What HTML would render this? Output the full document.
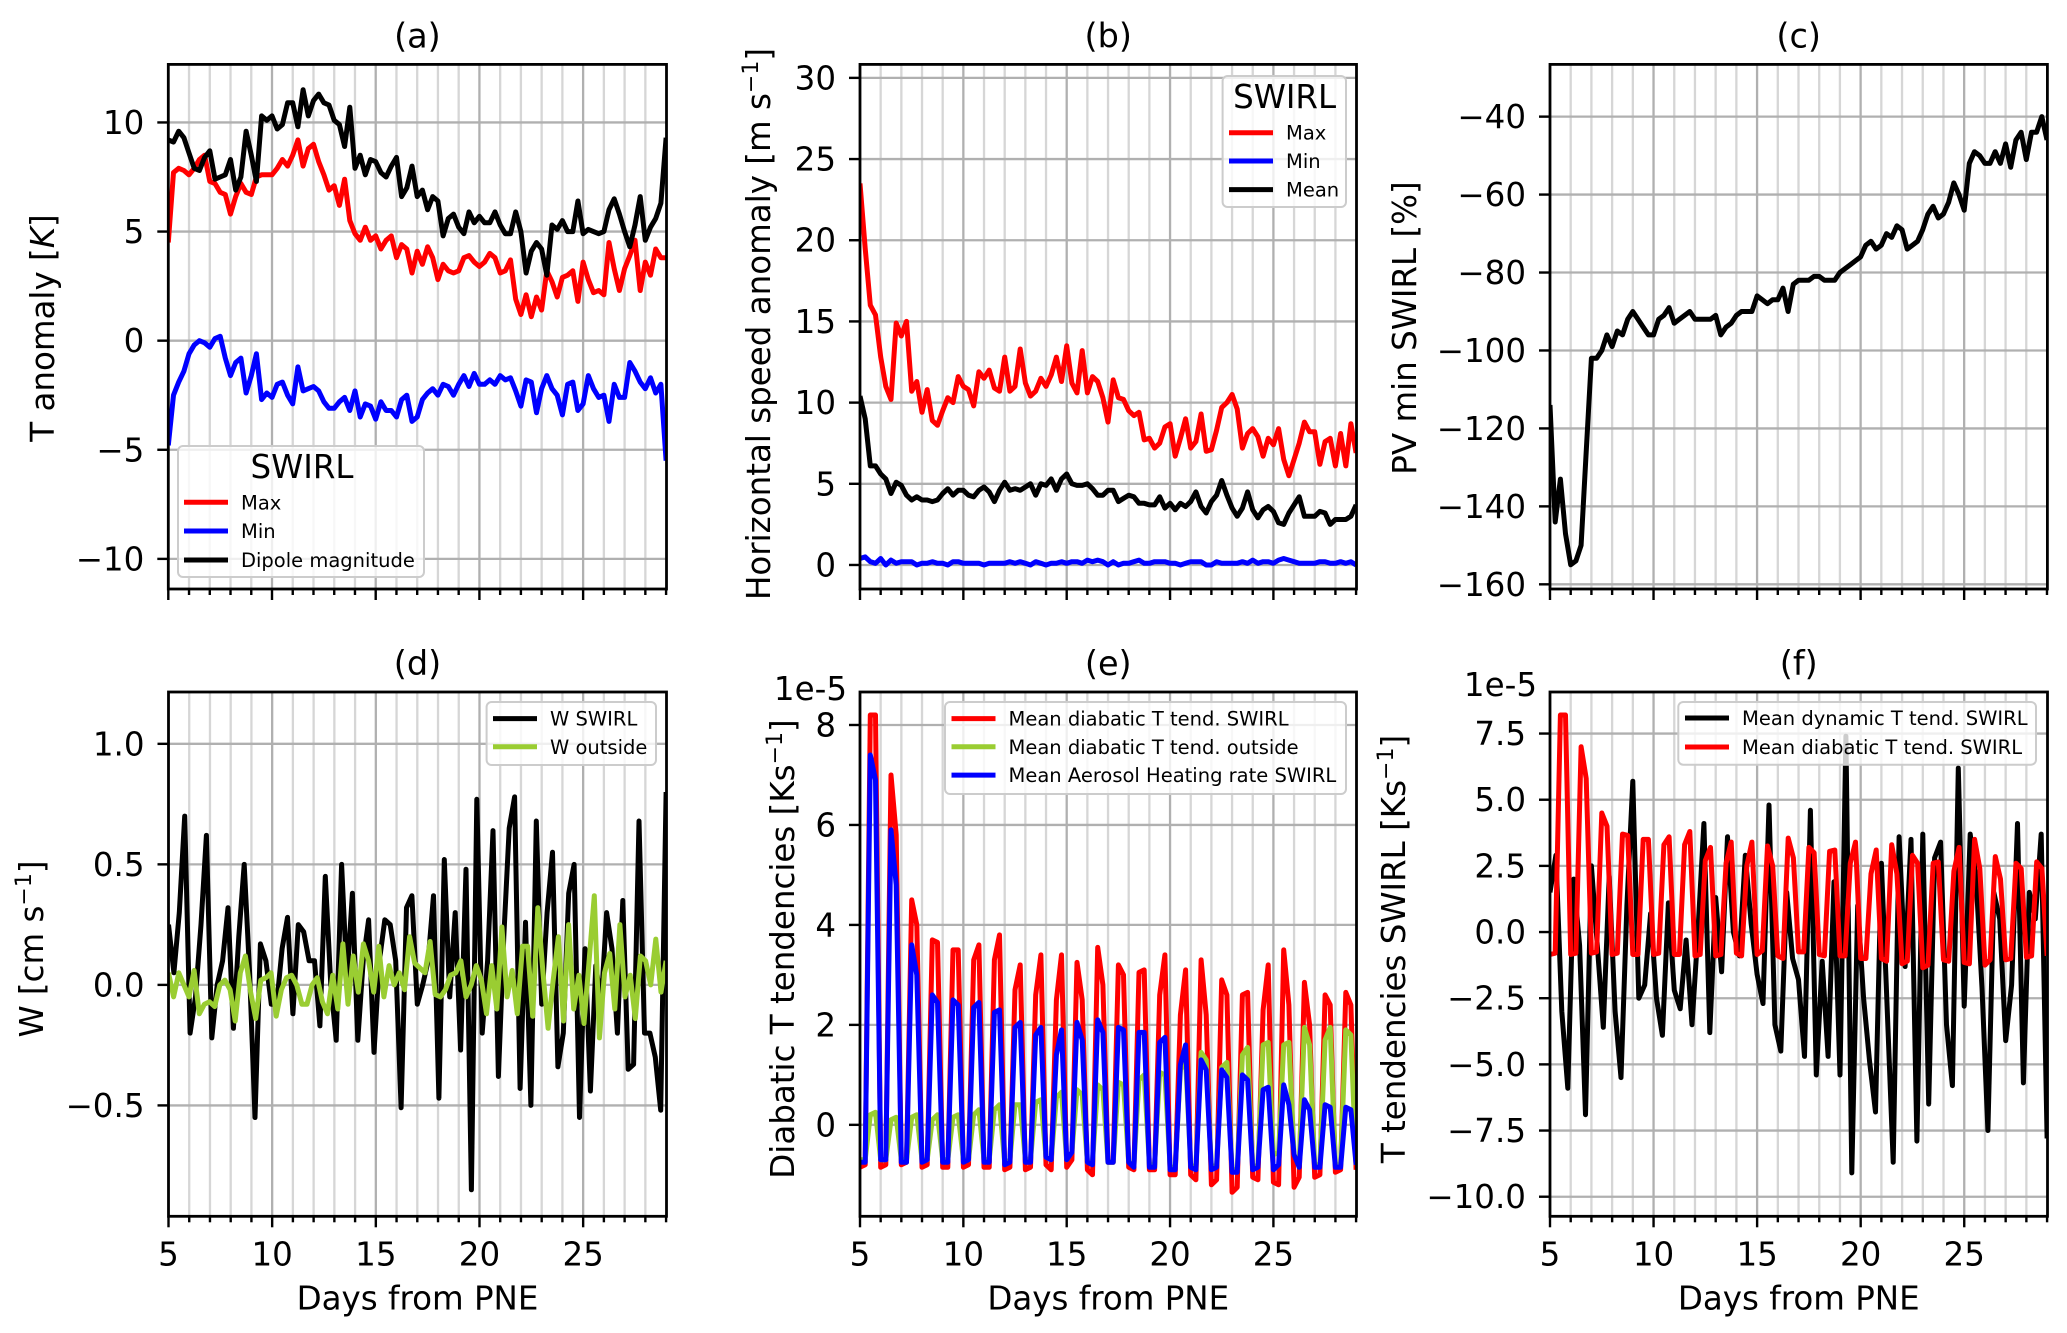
<!DOCTYPE html>
<html><head><meta charset="utf-8"><style>
html,body{margin:0;padding:0;background:#fff;}
svg{display:block;font-family:"DejaVu Sans","Liberation Sans",sans-serif;}
</style></head><body>
<svg id="fig" width="2067" height="1333" viewBox="0 0 2067 1333" xmlns="http://www.w3.org/2000/svg"></svg>
<script>
// ---------- data ----------
const xStart = 5, xEnd = 29;
const aMax = [4.5,7.7,7.9,7.8,7.6,7.9,8.3,8.5,7.3,7.2,6.8,6.7,5.8,6.6,7.2,6.8,6.7,7.5,7.6,7.6,7.6,7.9,8.3,8.0,8.5,9.2,8.0,8.8,9.0,8.2,7.6,6.9,7.1,6.2,7.4,5.5,4.9,4.6,5.2,4.6,4.8,4.2,4.6,4.8,3.8,4.4,4.2,3.1,4.1,3.5,4.3,3.8,2.8,3.5,3.2,3.1,3.2,3.8,3.9,3.6,3.4,3.6,4.0,3.8,3.1,3.2,3.7,1.9,1.2,2.1,1.1,2.0,1.4,3.2,2.7,2.0,2.9,3.0,3.2,1.8,3.6,2.8,2.2,2.3,2.1,4.5,3.3,2.3,3.3,3.9,4.6,2.3,3.6,3.0,4.2,3.8,3.8];
const aMin = [-4.8,-2.5,-1.9,-1.4,-0.6,-0.2,0.0,-0.1,-0.3,0.1,0.2,-0.8,-1.6,-1.0,-0.8,-2.4,-1.6,-0.6,-2.7,-2.4,-2.6,-2.0,-1.9,-2.5,-2.9,-1.2,-2.3,-2.2,-2.1,-2.3,-2.8,-3.1,-3.1,-2.8,-2.6,-3.2,-2.3,-3.5,-2.9,-3.0,-3.6,-2.8,-3.2,-3.2,-3.5,-2.7,-2.5,-3.7,-3.5,-2.7,-2.4,-2.2,-2.5,-2.0,-2.1,-2.5,-2.0,-1.6,-2.1,-1.5,-2.0,-2.0,-1.8,-2.0,-1.6,-1.8,-1.7,-2.3,-3.0,-1.8,-1.9,-3.3,-2.2,-1.6,-2.2,-2.5,-3.4,-2.0,-1.9,-3.2,-2.9,-1.6,-2.2,-2.6,-2.5,-3.7,-2.0,-2.6,-2.6,-1.0,-1.4,-1.9,-2.2,-1.7,-2.4,-2.0,-5.5];
const aDipole = [9.2,9.1,9.6,9.3,8.6,7.9,7.8,8.4,8.7,7.4,7.5,7.6,8.3,6.9,7.5,9.6,8.5,7.3,10.3,10.1,10.3,9.7,9.9,10.9,10.9,9.8,11.5,10.3,11.0,11.3,10.9,10.8,10.1,9.9,8.9,10.7,7.9,8.5,7.6,8.3,8.2,7.7,7.5,8.0,8.4,6.6,7.0,8.0,6.6,6.9,6.0,6.6,6.4,4.8,5.6,5.8,5.2,4.9,5.9,5.4,5.7,5.4,5.4,5.9,5.3,4.9,4.9,5.9,5.0,3.1,4.1,4.5,4.2,3.0,5.3,5.1,5.5,5.0,5.0,6.4,4.9,5.1,5.0,4.9,5.0,6.0,6.5,5.8,5.0,4.3,5.3,6.6,4.6,5.2,5.6,6.3,9.3];
const bMax = [23.5,19.5,16.0,15.4,12.8,11.0,10.2,14.9,14.1,15.0,10.7,11.3,9.4,10.8,8.9,8.6,9.5,10.3,10.0,11.6,11.0,10.8,9.8,11.9,11.5,12.0,10.9,10.7,12.8,10.7,11.0,13.3,11.2,10.4,10.7,11.5,11.0,11.7,12.8,11.3,13.5,11.2,10.6,13.2,10.6,11.6,11.3,10.3,8.8,11.4,10.3,10.2,9.5,9.2,9.4,7.7,7.8,7.2,7.5,8.5,8.7,6.7,7.8,9.0,7.2,7.6,9.3,7.0,7.1,8.3,9.7,10.0,10.5,9.6,7.2,8.1,8.4,7.9,6.7,7.8,7.4,8.4,6.5,5.5,6.5,7.5,8.8,8.2,8.2,6.2,7.6,7.8,6.1,8.1,6.1,8.7,6.9];
const bMean = [10.4,9.0,6.1,6.1,5.6,5.3,4.4,5.1,4.9,4.3,4.0,4.2,4.0,4.0,3.9,4.0,4.4,4.7,4.3,4.6,4.6,4.3,4.2,4.6,4.8,4.5,3.9,4.6,5.1,4.6,4.7,4.6,4.8,5.0,4.3,5.0,4.9,5.3,4.6,5.3,5.6,5.0,4.9,4.9,5.0,4.7,4.3,4.3,4.6,4.6,3.9,4.1,4.3,4.2,3.8,3.8,3.7,3.7,4.2,3.5,3.8,3.4,3.8,3.6,3.9,4.5,3.6,3.2,3.9,4.3,5.2,4.3,3.5,3.0,3.5,4.5,3.4,2.9,3.4,3.6,3.3,2.6,2.5,3.2,3.7,4.2,3.0,3.0,3.0,3.3,3.2,2.5,2.8,2.8,2.8,3.0,3.7];
const bMin = [0.4,0.5,0.2,0.1,0.4,0.0,0.3,0.1,0.2,0.2,0.2,0.0,0.1,0.1,0.2,0.1,0.1,0.0,0.2,0.2,0.1,0.1,0.1,0.1,0.0,0.1,0.1,0.1,0.1,0.2,0.1,0.2,0.1,0.0,0.2,0.1,0.0,0.1,0.1,0.2,0.1,0.2,0.2,0.1,0.3,0.2,0.3,0.2,0.0,0.2,0.0,0.1,0.1,0.2,0.3,0.1,0.1,0.2,0.2,0.2,0.1,0.1,0.0,0.1,0.2,0.2,0.2,0.0,0.0,0.2,0.1,0.1,0.1,0.1,0.2,0.1,0.3,0.1,0.2,0.2,0.1,0.3,0.4,0.3,0.2,0.1,0.1,0.1,0.1,0.2,0.2,0.1,0.1,0.2,0.1,0.2,0.0];
const cPV = [-114,-144,-133,-147,-155,-154,-150,-126,-102,-102,-100,-96,-99,-95,-96,-92,-90,-92,-94,-96,-96,-92,-91,-89,-93,-92,-91,-90,-92,-92,-92,-92,-91,-96,-94,-93,-91,-90,-90,-90,-86,-87,-88,-87,-87,-84,-90,-83,-82,-82,-82,-81,-81,-82,-82,-82,-80,-79,-78,-77,-76,-73,-72,-74,-73,-70,-71,-68,-69,-74,-73,-72,-69,-65,-63,-66,-65,-62,-57,-60,-64,-52,-49,-50,-52,-52,-49,-52,-47,-53,-46,-44,-51,-44,-44,-40,-46];
const dSwirl = [0.25,0.05,0.3,0.7,-0.2,-0.05,0.25,0.62,-0.22,0.0,0.1,0.32,-0.18,0.2,0.5,0.05,-0.55,0.17,0.1,-0.08,-0.08,0.15,0.28,-0.12,0.25,0.22,0.1,0.1,-0.17,0.45,0.0,-0.23,0.5,0.02,0.38,-0.23,0.1,0.27,-0.28,0.1,0.27,0.25,0.1,-0.51,0.32,0.37,-0.08,0.0,0.1,0.37,-0.47,0.52,-0.05,0.3,-0.27,0.48,-0.85,0.77,-0.2,0.1,0.64,-0.38,0.2,0.65,0.78,-0.43,0.26,-0.5,0.68,-0.08,0.3,0.55,-0.34,-0.2,0.38,0.5,-0.55,0.15,-0.44,0.08,-0.08,0.3,0.15,-0.2,0.35,-0.35,-0.33,0.68,-0.2,-0.2,-0.3,-0.52,0.8];
const dOutside = [0.05,-0.05,0.05,0.0,-0.05,0.06,-0.12,-0.08,-0.07,-0.09,0.0,0.02,-0.02,-0.15,0.05,0.12,-0.03,-0.14,0.02,0.03,0.05,-0.13,-0.02,0.03,0.04,0.0,-0.08,-0.08,0.0,0.03,-0.07,-0.12,0.04,-0.1,0.17,-0.08,0.12,-0.03,0.17,0.1,-0.03,0.16,-0.05,0.08,0.0,0.05,-0.02,0.2,0.09,0.07,0.05,0.18,-0.04,-0.05,-0.02,0.04,0.05,0.1,-0.05,0.0,0.08,0.02,-0.12,0.08,-0.1,0.24,-0.05,0.06,-0.12,0.16,0.16,-0.13,0.32,0.05,-0.18,0.02,0.2,-0.15,0.25,-0.1,0.04,-0.16,0.1,0.37,-0.22,0.05,0.13,-0.1,0.25,-0.05,0.04,-0.14,0.12,0.1,0.0,0.19,-0.03,0.1];
const diabDays = [5,6,7,8,9,10,11,12,13,14,15,16,17,18,19,20,21,22,23,24,25,26,27,28];
const redHigh1 = [8.2,7.0,4.5,3.7,3.5,3.3,3.3,2.7,2.6,2.5,3.25,3.55,3.2,3.05,2.6,2.2,3.3,2.9,2.6,2.3,3.5,2.85,2.6,2.65];
const redHigh2 = [8.2,5.8,4.0,3.65,3.5,3.6,3.8,3.2,3.4,3.4,2.5,2.8,3.0,3.1,3.4,3.1,2.2,2.6,2.65,3.2,2.4,2.0,2.4,2.4];
const redLow1 = [-0.85,-0.85,-0.8,-0.85,-0.85,-0.85,-0.85,-0.9,-0.9,-0.8,-0.85,-0.9,-0.75,-0.85,-0.9,-1.0,-1.0,-1.2,-1.35,-1.05,-1.15,-1.25,-1.05,-0.95];
const redLow2 = [-0.8,-0.8,-0.75,-0.8,-0.85,-0.8,-0.85,-0.85,-0.85,-0.9,-0.7,-1.0,-0.75,-0.9,-0.9,-1.0,-1.1,-1.1,-1.25,-1.1,-1.2,-1.05,-1.0,-0.9];
const blueHigh1 = [7.4,5.9,3.6,2.6,2.5,2.35,2.25,1.95,1.8,1.4,2.05,2.1,1.95,1.85,1.65,1.2,1.3,1.1,1.0,0.7,0.8,0.5,0.4,0.35];
const blueHigh2 = [6.9,4.8,3.0,2.45,2.4,2.45,2.3,2.05,1.95,1.9,1.7,1.85,1.9,1.85,1.75,1.6,1.1,0.95,0.9,0.75,0.4,0.3,0.35,0.3];
const blueLow1 = [-0.75,-0.7,-0.75,-0.75,-0.75,-0.75,-0.75,-0.8,-0.75,-0.65,-0.7,-0.75,-0.75,-0.75,-0.85,-0.9,-0.85,-0.9,-0.95,-0.9,-0.9,-0.6,-0.85,-0.85];
const blueLow2 = [-0.75,-0.7,-0.75,-0.7,-0.75,-0.7,-0.75,-0.75,-0.75,-0.7,-0.55,-0.8,-0.75,-0.85,-0.85,-0.9,-0.9,-0.85,-0.95,-0.85,-0.8,-0.85,-0.85,-0.85];
const greenHigh1 = [0.2,0.1,0.15,0.1,0.15,0.2,0.3,0.4,0.45,0.55,0.7,0.8,0.85,0.9,1.05,1.1,1.45,1.15,1.4,1.6,1.6,1.95,1.7,1.9];
const greenHigh2 = [0.25,0.15,0.2,0.2,0.2,0.3,0.4,0.4,0.5,0.65,0.6,0.7,0.8,1.0,1.0,1.3,1.3,1.25,1.55,1.65,1.65,1.6,1.95,1.8];
const greenLow1 = [-0.7,-0.7,-0.7,-0.7,-0.7,-0.7,-0.7,-0.75,-0.7,-0.65,-0.7,-0.75,-0.75,-0.75,-0.8,-0.85,-0.8,-0.85,-0.9,-0.85,-0.6,-0.6,-0.8,-0.8];
const greenLow2 = [-0.7,-0.7,-0.7,-0.7,-0.7,-0.7,-0.7,-0.7,-0.7,-0.7,-0.55,-0.75,-0.75,-0.8,-0.8,-0.85,-0.85,-0.8,-0.9,-0.8,-0.55,-0.8,-0.8,-0.8];
const diabEnd = [-0.9,-0.8,-0.8];
const fDynamic = [1.5,2.9,-3.0,-5.9,2.0,-0.5,-6.9,2.5,-0.5,-3.6,2.1,-3.0,-5.5,1.0,5.7,-2.5,-2.0,0.7,-2.5,-3.9,1.1,-2.2,-2.9,-0.3,-3.5,0.0,4.1,-3.8,1.3,-1.5,3.6,0.0,-0.9,2.9,0.3,-1.6,-2.7,4.8,-3.5,-4.5,1.5,-1.0,-1.8,-4.7,4.6,-5.4,-1.1,-4.7,1.9,-5.4,7.4,-9.1,1.0,-2.5,-4.9,-6.8,2.6,-3.0,-8.7,3.6,-1.3,3.5,-7.9,3.7,-6.5,2.8,3.4,-3.5,-5.8,6.2,-2.8,3.7,2.0,-2.1,-7.5,1.5,0.5,-4.1,-2.0,4.1,-5.7,1.5,0.5,3.7,-7.8];
const xTicks = [5,10,15,20,25];
const xTickLabels = ['5','10','15','20','25'];
const aYTicks = [-10,-5,0,5,10];
const aYLabels = ['−10','−5','0','5','10'];
const bYTicks = [0,5,10,15,20,25,30];
const bYLabels = ['0','5','10','15','20','25','30'];
const cYTicks = [-160,-140,-120,-100,-80,-60,-40];
const cYLabels = ['−160','−140','−120','−100','−80','−60','−40'];
const dYTicks = [-0.5,0,0.5,1.0];
const dYLabels = ['−0.5','0.0','0.5','1.0'];
const eYTicks = [0,2,4,6,8];
const eYLabels = ['0','2','4','6','8'];
const fYTicks = [-10,-7.5,-5,-2.5,0,2.5,5,7.5];
const fYLabels = ['−10.0','−7.5','−5.0','−2.5','0.0','2.5','5.0','7.5'];

// ---------- helpers ----------
const NS='http://www.w3.org/2000/svg';
const svg=document.getElementById('fig');
const FS=32.5, LW=5;
function mk(tag,attrs,parent){const e=document.createElementNS(NS,tag);for(const k in attrs)e.setAttribute(k,attrs[k]);(parent||svg).appendChild(e);return e;}
function evenSeries(vals){return vals.map((v,i)=>[xStart+i*(xEnd-xStart)/(vals.length-1),v]);}
function diabSeries(h1,h2,l1,l2,end){const pts=[];diabDays.forEach((d,i)=>{pts.push([d,l1[i]]);pts.push([d+0.25,l2[i]]);pts.push([d+0.5,h1[i]]);pts.push([d+0.75,h2[i]]);});pts.push([29,end]);return pts;}

function panel(cfg){
  const g=mk('g',{});
  
  
  const X=v=>cfg.x0+(v-cfg.xmin)/(cfg.xmax-cfg.xmin)*(cfg.x1-cfg.x0);
  const Y=v=>cfg.y1-(v-cfg.ymin)/(cfg.ymax-cfg.ymin)*(cfg.y1-cfg.y0);
  for(let d=6;d<=29;d++){
    if(X(d)>=cfg.x1-1)continue;
    const major=d%5===0;
    const gl=mk('line',{x1:X(d),x2:X(d),y1:cfg.y0,y2:cfg.y1,stroke:major?'#b0b0b0':'#d6d6d6','stroke-width':2.3},g);
    
    
  }
  cfg.yt.forEach(v=>{
    const gl=mk('line',{x1:cfg.x0,x2:cfg.x1,y1:Y(v),y2:Y(v),stroke:'#b0b0b0','stroke-width':2.3},g);
    
    
  });
  const cp=mk('clipPath',{id:'clip-'+cfg.id},g);
  mk('rect',{x:cfg.x0,y:cfg.y0,width:cfg.x1-cfg.x0,height:cfg.y1-cfg.y0},cp);
  cfg.series.forEach(s=>{
    const d=s.pts.map((p,i)=>(i?'L':'M')+X(p[0]).toFixed(1)+' '+Y(p[1]).toFixed(1)).join(' ');
    const pth=mk('path',{d:d,fill:'none',stroke:s.color,'stroke-width':LW,'stroke-linejoin':'round','clip-path':'url(#clip-'+cfg.id+')'},g);
    
    
  });
  const fr=mk('rect',{x:cfg.x0,y:cfg.y0,width:cfg.x1-cfg.x0,height:cfg.y1-cfg.y0,fill:'none',stroke:'#000','stroke-width':2.8},g);
  
  
  for(let d=5;d<=29;d++){
    if(X(d)>cfg.x1+0.5)continue;
    const major=d%5===0;
    const t=mk('line',{x1:X(d),x2:X(d),y1:cfg.y1,y2:cfg.y1+(major?11:6),stroke:'#000','stroke-width':2.4},g);
    
    
  }
  if(cfg.xlabels){
    xTicks.forEach((v,i)=>{
      const t=mk('text',{x:X(v),y:cfg.y1+49,'font-size':FS,'text-anchor':'middle',fill:'#000'},g);
      t.textContent=xTickLabels[i];
      
      
    });
    const xl=mk('text',{x:(cfg.x0+cfg.x1)/2,y:cfg.y1+93,'font-size':FS,'text-anchor':'middle',fill:'#000'},g);
    xl.textContent='Days from PNE';
    
    
  }
  cfg.yt.forEach((v,i)=>{
    const t=mk('line',{x1:cfg.x0-11,x2:cfg.x0,y1:Y(v),y2:Y(v),stroke:'#000','stroke-width':2.4},g);
    
    
    const l=mk('text',{x:cfg.x0-24,y:Y(v)+11.5,'font-size':FS,'text-anchor':'end',fill:'#000'},g);
    l.textContent=cfg.ytl[i];
    
    
  });
  if(cfg.offset){
    const o=mk('text',{x:cfg.offset[0],y:cfg.offset[1],'font-size':FS,'text-anchor':'end',fill:'#000'},g);
    o.textContent='1e-5';
    
    
  }
  const ti=mk('text',{x:(cfg.x0+cfg.x1)/2,y:cfg.y0-17,'font-size':FS+1,'text-anchor':'middle',fill:'#000'},g);
  ti.textContent=cfg.title;
  
  
  const yl=mk('text',{x:0,y:0,'font-size':FS,'text-anchor':'middle',fill:'#000',transform:`translate(${cfg.ylx},${cfg.yly}) rotate(-90)`},g);
  yl.innerHTML=cfg.ylabel;
  
  
  if(cfg.legend){
    const L=cfg.legend;
    const lg=mk('g',{},g);
    
    
    const bx=mk('rect',{x:L.x,y:L.y,width:L.w,height:L.h,rx:5,fill:'#fff','fill-opacity':0.8,stroke:'#cccccc','stroke-width':2},lg);
    
    
    if(L.title){
      const tt=mk('text',{x:L.tx,y:L.ty,'font-size':FS,'text-anchor':'middle',fill:'#000'},lg);
      tt.textContent=L.title;
      
      
    }
    L.items.forEach((it,i)=>{
      const yy=L.iy[i];
      const ln=mk('line',{x1:L.hx,x2:L.hx+44,y1:yy,y2:yy,stroke:it[1],'stroke-width':LW},lg);
      
      
      const tx=mk('text',{x:L.hx+57,y:yy+7,'font-size':19.5,fill:'#000'},lg);
      tx.textContent=it[0];
      
      
    });
  }
}

const diabRed = diabSeries(redHigh1,redHigh2,redLow1,redLow2,diabEnd[0]);
const diabBlue = diabSeries(blueHigh1,blueHigh2,blueLow1,blueLow2,diabEnd[1]);
const diabGreen = diabSeries(greenHigh1,greenHigh2,greenLow1,greenLow2,diabEnd[2]);

const XMAX=29.02;
panel({id:'a',title:'(a)',x0:168.3,x1:666.5,y0:64.4,y1:589,xmin:5,xmax:XMAX,ymin:-11.38,ymax:12.66,yt:aYTicks,ytl:aYLabels,
  ylx:54,yly:328,ylabel:'T anomaly [<tspan font-style="italic">K</tspan>]',
  series:[{name:'line-max',color:'#ff0000',pts:evenSeries(aMax)},{name:'line-min',color:'#0000ff',pts:evenSeries(aMin)},{name:'line-dipole-magnitude',color:'#000',pts:evenSeries(aDipole)}],
  legend:{x:178,y:446,w:246,h:131,title:'SWIRL',tx:302,ty:478,hx:184,iy:[502.3,531,560],items:[['Max','#ff0000'],['Min','#0000ff'],['Dipole magnitude','#000']]}});
panel({id:'b',title:'(b)',x0:860,x1:1356.5,y0:64.4,y1:589,xmin:5,xmax:XMAX,ymin:-1.48,ymax:30.83,yt:bYTicks,ytl:bYLabels,
  ylx:770,yly:324,ylabel:'Horizontal speed anomaly [m s<tspan baseline-shift="super" font-size="22">−1</tspan>]',
  series:[{name:'line-max',color:'#ff0000',pts:evenSeries(bMax)},{name:'line-min',color:'#0000ff',pts:evenSeries(bMin)},{name:'line-mean',color:'#000',pts:evenSeries(bMean)}],
  legend:{x:1222.6,y:76,w:123.4,h:131,title:'SWIRL',tx:1284.6,ty:108,hx:1229,iy:[132.7,161,189.6],items:[['Max','#ff0000'],['Min','#0000ff'],['Mean','#000']]}});
panel({id:'c',title:'(c)',x0:1550,x1:2047.4,y0:64.4,y1:589,xmin:5,xmax:XMAX,ymin:-161.2,ymax:-26.6,yt:cYTicks,ytl:cYLabels,
  ylx:1416,yly:328,ylabel:'PV min SWIRL [%]',
  series:[{name:'line-pv-min',color:'#000',pts:evenSeries(cPV)}]});
panel({id:'d',title:'(d)',x0:168.5,x1:666.5,y0:692,y1:1216.3,xmin:5,xmax:XMAX,ymin:-0.96,ymax:1.215,yt:dYTicks,ytl:dYLabels,xlabels:true,
  ylx:43,yly:949,ylabel:'W [cm s<tspan baseline-shift="super" font-size="22">−1</tspan>]',
  series:[{name:'line-w-swirl',color:'#000',pts:evenSeries(dSwirl)},{name:'line-w-outside',color:'#9acd32',pts:evenSeries(dOutside)}],
  legend:{x:486.6,y:702,w:169.4,h:63,hx:493,iy:[718.6,746.8],items:[['W SWIRL','#000'],['W outside','#9acd32']]}});
panel({id:'e',title:'(e)',x0:860,x1:1356.5,y0:692,y1:1216.3,xmin:5,xmax:XMAX,ymin:-1.83,ymax:8.66,yt:eYTicks,ytl:eYLabels,xlabels:true,offset:[847,700],
  ylx:794,yly:949,ylabel:'Diabatic T tendencies [Ks<tspan baseline-shift="super" font-size="22">−1</tspan>]',
  series:[{name:'line-diabatic-swirl',color:'#ff0000',pts:diabRed},{name:'line-diabatic-outside',color:'#9acd32',pts:diabGreen},{name:'line-aerosol-heating',color:'#0000ff',pts:diabBlue}],
  legend:{x:945,y:702,w:401,h:92,hx:951.5,iy:[718.6,746.8,775.1],items:[['Mean diabatic T tend. SWIRL','#ff0000'],['Mean diabatic T tend. outside','#9acd32'],['Mean Aerosol Heating rate SWIRL','#0000ff']]}});
panel({id:'f',title:'(f)',x0:1550,x1:2047.5,y0:692,y1:1216.3,xmin:5,xmax:XMAX,ymin:-10.74,ymax:9.07,yt:fYTicks,ytl:fYLabels,xlabels:true,offset:[1537,696],
  ylx:1405,yly:949,ylabel:'T tendencies SWIRL [Ks<tspan baseline-shift="super" font-size="22">−1</tspan>]',
  series:[{name:'line-dynamic-swirl',color:'#000',pts:evenSeries(fDynamic)},{name:'line-diabatic-swirl',color:'#ff0000',pts:diabRed.map(p=>[p[0],p[1]])}],
  legend:{x:1678.3,y:702,w:357.7,h:62.7,hx:1685,iy:[718,747],items:[['Mean dynamic T tend. SWIRL','#000'],['Mean diabatic T tend. SWIRL','#ff0000']]}});
</script>
</body></html>
